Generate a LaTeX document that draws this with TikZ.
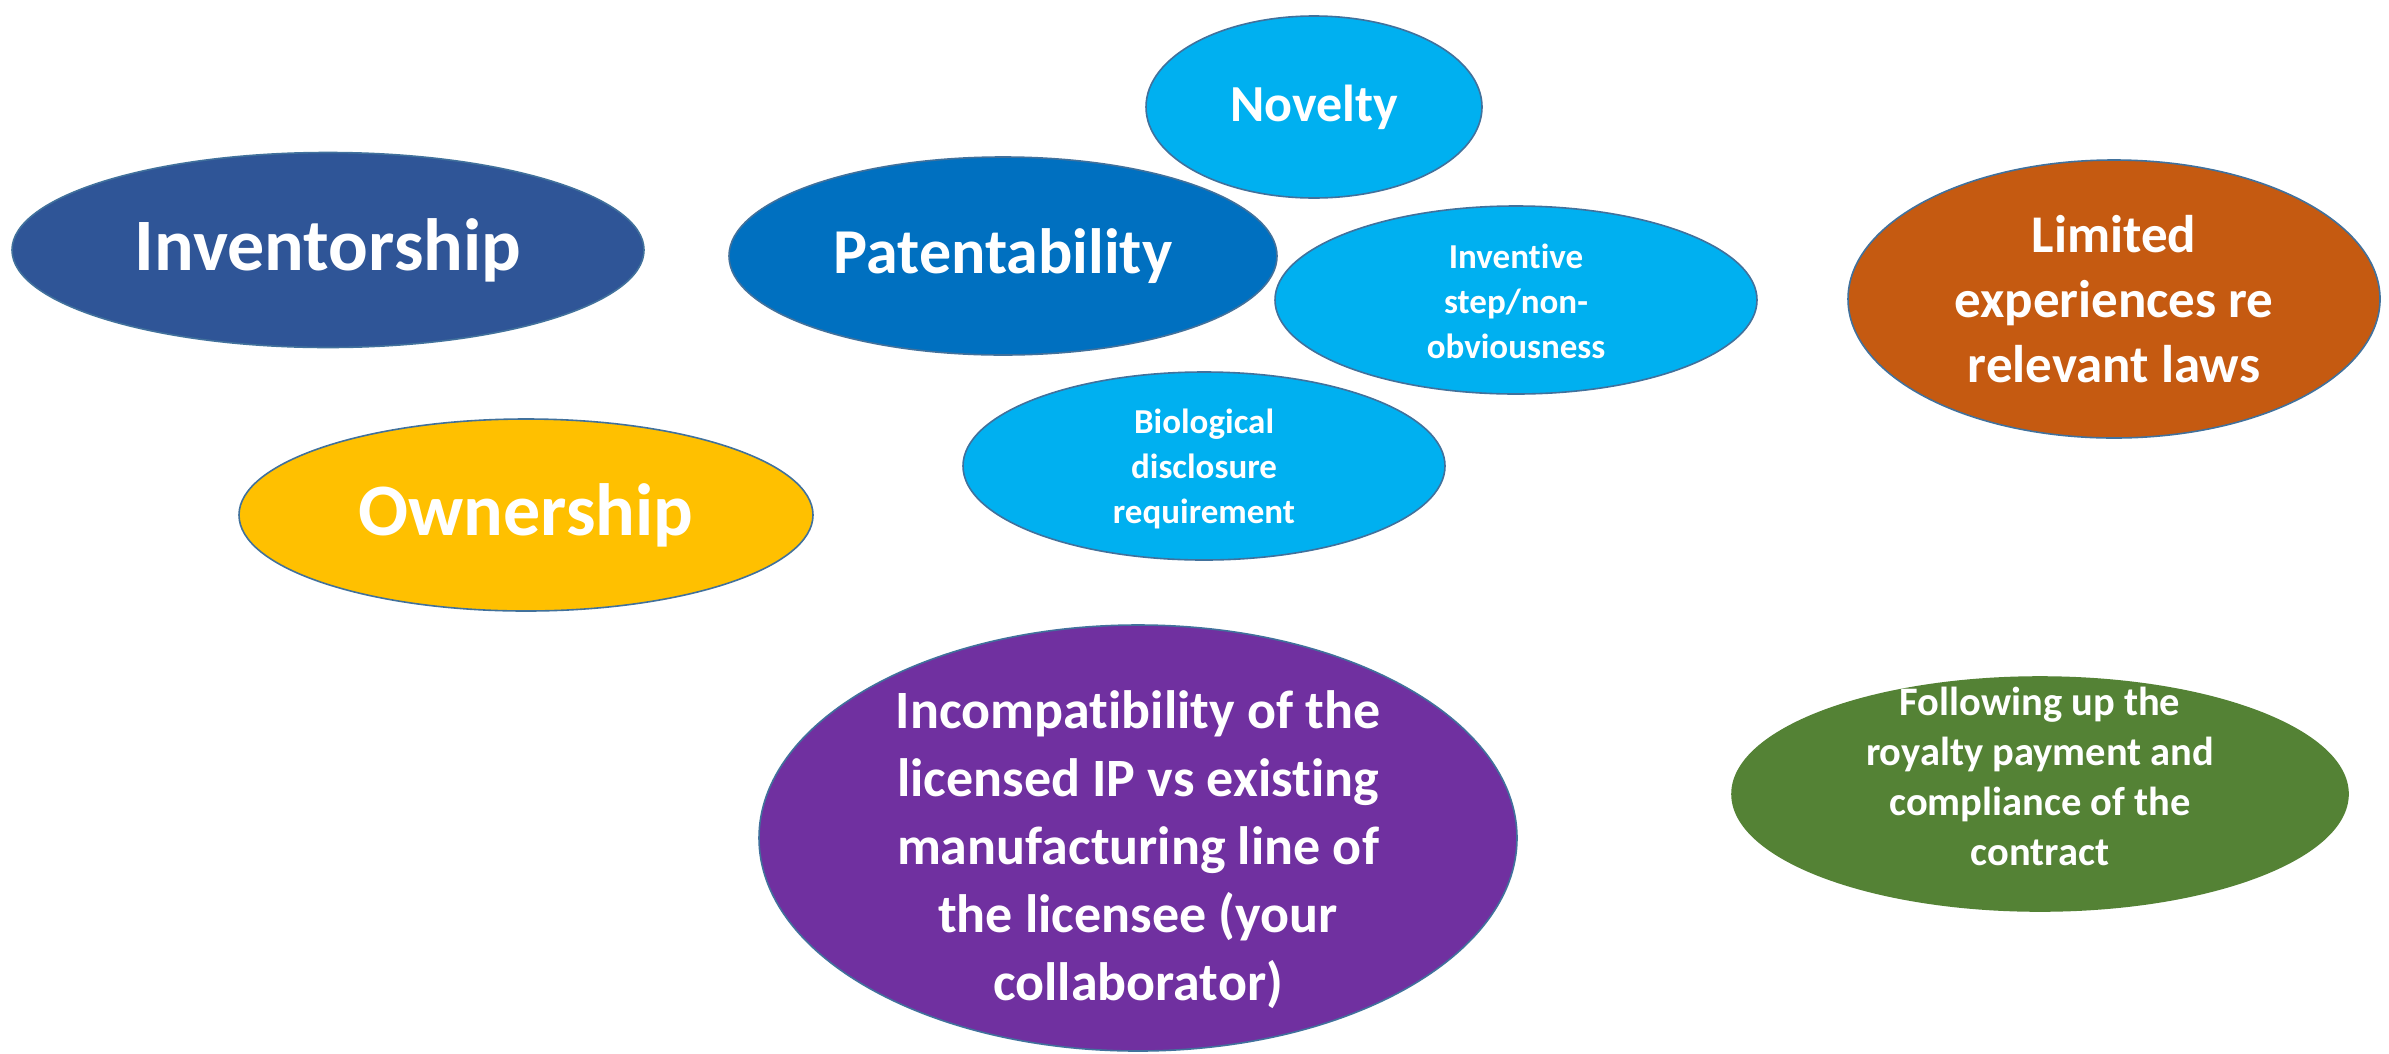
\documentclass[tikz,border=0pt]{standalone}
\usepackage{fontspec}
\setmainfont{Carlito}[RawFeature={-liga}]
\usetikzlibrary{shapes.geometric}
\definecolor{cInv}{HTML}{2F5597}
\definecolor{cPat}{HTML}{0070C0}
\definecolor{cLight}{HTML}{00B0F0}
\definecolor{cOwn}{HTML}{FFC000}
\definecolor{cLim}{HTML}{C55A11}
\definecolor{cFol}{HTML}{548235}
\definecolor{cInc}{HTML}{7030A0}
\definecolor{cEdge}{HTML}{41719C}
\tikzset{
  bub/.style={ellipse, draw=cEdge, line width=1.6pt, text=white, align=center,
    inner sep=0pt, font=\bfseries},
}
\newcommand{\fsz}[2]{\fontsize{#1}{#2}\selectfont}
\begin{document}
\begin{tikzpicture}[x=1pt,y=-1pt]
\useasboundingbox (0,0) rectangle (2389,1053);
\fill[white] (0,0) rectangle (2389,1053);
\node[bub, fill=cInv, minimum width=632, minimum height=195, font=\bfseries\fsz{74}{90}] (inv) at (328,250) {Inventorship};
\node[bub, fill=cPat, minimum width=548, minimum height=198, font=\bfseries\fsz{64}{78}] (pat) at (1003,256) {Patentability};
\node[bub, fill=cLight, minimum width=336, minimum height=182, font=\bfseries\fsz{52}{64}] (nov) at (1314,107) {Novelty};
\node[bub, fill=cLight, minimum width=482, minimum height=188] (ist) at (1516,300) {};
\node[text=white, align=center, font=\bfseries\fsz{35}{45}] (istt) at (1516,301) {Inventive\\step/non-\\obviousness};
\node[bub, fill=cLight, minimum width=482, minimum height=188] (bio) at (1204,466) {};
\node[text=white, align=center, font=\bfseries\fsz{35}{45}] (biot) at (1204,469) {Biological\\disclosure\\requirement};
\node[bub, fill=cOwn, minimum width=574, minimum height=192, font=\bfseries\fsz{74}{90}] (own) at (526,515) {Ownership};
\node[bub, fill=cLim, minimum width=532, minimum height=278, font=\bfseries\fsz{53}{65}] (lim) at (2114,299) {Limited\\experiences re\\relevant laws};
\node[bub, fill=cFol, draw=cFol, minimum width=616, minimum height=234] (fol) at (2040,794) {};
\node[text=white, align=center, font=\bfseries\fsz{40.5}{50}] (folt) at (2040,776) {Following up the\\royalty payment and\\compliance of the\\contract};
\node[bub, fill=cInc, minimum width=758, minimum height=426] (inc) at (1138,838) {};
\node[text=white, align=center, font=\bfseries\fsz{54}{68}] (inct) at (1138,850) {Incompatibility of the\\licensed IP vs existing\\manufacturing line of\\the licensee (your\\collaborator)};
\end{tikzpicture}
\end{document}
